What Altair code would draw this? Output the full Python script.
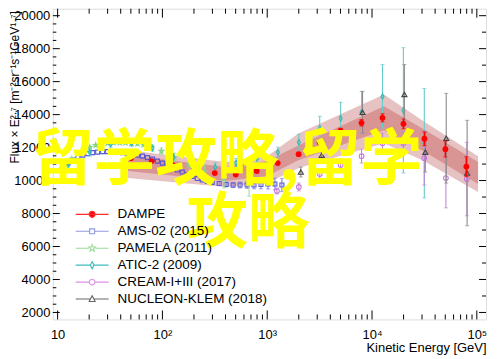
import altair as alt
import pandas as pd

# ---------------- data ----------------
series_names = ["DAMPE", "AMS-02 (2015)", "PAMELA (2011)", "ATIC-2 (2009)",
                "CREAM-I+III (2017)", "NUCLEON-KLEM (2018)"]

dampe_E = [50, 79, 126, 200, 316, 501, 794, 1259, 1995, 3162, 5012, 7943,
           12590, 19950, 31620, 50120, 79430]
dampe_F = [11360, 11180, 10940, 10640, 10455, 10364, 10575, 11059, 11602, 12327,
           13030, 13504, 13806, 13444, 12538, 11904, 10847]
dampe_err = [20, 20, 20, 25, 30, 35, 40, 50, 70, 100, 140, 200, 250, 300, 420, 480, 600]

ams_E = [11.2, 12.5, 13.96, 15.6, 17.4, 19.4, 21.6, 24.1, 26.9, 30.0,
         33.5, 37.4, 41.7, 46.5, 51.9, 57.9, 64.6, 72.0, 80.4, 89.7,
         100, 111.6, 124.5, 138.8, 154.9, 172.8, 192.8, 215.1, 239.9, 267.7,
         298.6, 348, 405.7, 472.8, 551, 642, 748, 872, 1017, 1185, 1381]
ams_F = [10877, 11059, 11240, 11421, 11542, 11632, 11693, 11723, 11753, 11753,
         11753, 11723, 11693, 11662, 11602, 11542, 11481, 11391, 11300, 11179,
         11059, 10938, 10787, 10636, 10515, 10364, 10243, 10123, 10032, 9941,
         9881, 9821, 9760, 9730, 9730, 9730, 9730, 9760, 9790, 9790, 9730]
ams_err = [0] * 28 + [60, 80, 100, 120, 140, 160, 180, 200, 230, 260, 300, 350, 400]

pamela_E = [10.5, 11.98, 13.66, 15.57, 17.76, 20.25, 23.09, 26.33, 30.02, 34.22,
            39.03, 44.5, 50.75, 57.87, 65.98, 78.63, 97.8, 130.0, 180.5, 250.6,
            388.2, 670.8]
pamela_F = [10636, 10938, 11300, 11602, 11844, 12025, 12146, 12206, 12266, 12296,
            12296, 12296, 12266, 12236, 12176, 12025, 11783, 11421, 10938, 10515,
            10153, 9851]
pamela_err = [60, 60, 60, 60, 60, 60, 60, 60, 60, 60, 70, 80, 90, 100, 120, 150,
              200, 250, 350, 450, 600, 800]

atic_E = [12.79, 20.25, 32.06, 50.75, 80.4, 127.2, 201.4, 318.8, 504.7, 799,
          1265, 2003, 3171, 5021, 7948, 12585, 19922, 31540]
atic_F = [10998, 11723, 12206, 12266, 11964, 11421, 11059, 10817, 11059, 11360,
          11723, 12327, 13172, 13776, 14138, 15105, 14259, 12266]
atic_err = [300, 240, 180, 180, 180, 200, 240, 260, 280, 300, 300, 480, 725, 970,
            1270, 1930, 3800, 3320]

cream_E = [1238, 2003, 3171, 5021, 7948, 12585, 19922, 31540, 50700, 80270]
cream_F = [9368, 9609, 10394, 10938, 11481, 12266, 12266, 11360, 10153, 10092]
cream_err = [180, 240, 300, 360, 420, 600, 720, 1630, 1810, 2230]

nucleon_E = [2093, 3313, 8122, 20360, 32240, 51050, 80790]
nucleon_F = [10515, 11542, 14138, 15225, 11723, 12570, 10454]
nucleon_err = [300, 420, 1270, 1810, 1210, 2720, 3200]

band_E = [46.6, 400, 1000, 2000, 13000, 30000, 102700]
band_light_hi = [11844, 11119, 11481, 12870, 15225, 13655, 11481]
band_dark_hi = [11542, 10817, 11179, 12146, 14500, 13172, 11119]
band_dark_lo = [10576, 9972, 10273, 11240, 13051, 11844, 9790]
band_light_lo = [10153, 9609, 9851, 10757, 12266, 11240, 9307]

x_label_vals = [10, 100, 1000, 10000, 100000]
x_label_txt = ["10", "10²", "10³", "10⁴", "10⁵"]
y_label_vals = [2000, 4000, 6000, 8000, 10000, 12000, 14000, 16000, 18000, 20000]

watermark_line1 = "留学攻略,留学"
watermark_line2 = "攻略"

# ---------------- styling ----------------
W, H = 435, 312
FONT = "Liberation Sans"
xscale = alt.Scale(type="log", domain=[9.0, 122400], nice=False)
yscale = alt.Scale(domain=[1577, 20423], nice=False, zero=False)

marker_color = {
    "DAMPE": "#ff0000",
    "AMS-02 (2015)": "#5a5ad2",
    "PAMELA (2011)": "#86d486",
    "ATIC-2 (2009)": "#33b8b8",
    "CREAM-I+III (2017)": "#cc77dd",
    "NUCLEON-KLEM (2018)": "#444444",
}
bar_color = {
    "DAMPE": "#ff0000",
    "AMS-02 (2015)": "#7d7ddc",
    "PAMELA (2011)": "#9fdc9f",
    "ATIC-2 (2009)": "#66cccc",
    "CREAM-I+III (2017)": "#c08ad2",
    "NUCLEON-KLEM (2018)": "#8a8a8a",
}
legend_line_color = ["#ff2a2a", "#8f99e2", "#9bdc9b", "#3fbcbc", "#e090e8", "#666666"]
legend_fill = ["#ff0000", "white", "white", "white", "white", "white"]

STAR = ("M0,-1L0.235,-0.324L0.951,-0.309L0.38,0.124L0.588,0.809L0,0.4"
        "L-0.588,0.809L-0.38,0.124L-0.951,-0.309L-0.235,-0.324Z")
THIN_DIAMOND = "M0,-1L0.55,0L0,1L-0.55,0Z"
marker_shape = {
    "DAMPE": "circle",
    "AMS-02 (2015)": "square",
    "PAMELA (2011)": STAR,
    "ATIC-2 (2009)": THIN_DIAMOND,
    "CREAM-I+III (2017)": "circle",
    "NUCLEON-KLEM (2018)": "triangle-up",
}
marker_size = {
    "DAMPE": 34, "AMS-02 (2015)": 16, "PAMELA (2011)": 26,
    "ATIC-2 (2009)": 30, "CREAM-I+III (2017)": 22, "NUCLEON-KLEM (2018)": 26,
}

# legend symbols: a line segment with the marker in its middle (unit = 6.5 px)
legend_paths = [
    "M-2.54,0H2.54M0.46,0A0.46,0.46,0,1,1,-0.46,0A0.46,0.46,0,1,1,0.46,0Z",
    "M-2.54,0H-0.38M0.38,0H2.54M-0.38,-0.38H0.38V0.38H-0.38Z",
    "M-2.54,0H-0.5M0.5,0H2.54M0,-0.54L0.13,-0.18L0.51,-0.17L0.21,0.07L0.32,0.44"
    "L0,0.22L-0.32,0.44L-0.21,0.07L-0.51,-0.17L-0.13,-0.18Z",
    "M-2.54,0H-0.28M0.28,0H2.54M0,-0.55L0.28,0L0,0.55L-0.28,0Z",
    "M-2.54,0H-0.43M0.43,0H2.54M0.43,0A0.43,0.43,0,1,1,-0.43,0A0.43,0.43,0,1,1,0.43,0Z",
    "M-2.54,0H-0.26M0.26,0H2.54M0,-0.5L0.46,0.38L-0.46,0.38Z",
]

axis_common = dict(grid=False, ticks=False, domain=False,
                   labelFont=FONT, labelFontSize=13, labelColor="black",
                   titleFont=FONT, titleFontWeight="normal", titleColor="black")

label_expr = " : ".join(f"datum.value == {v} ? '{t}'" for v, t in zip(x_label_vals, x_label_txt)) + " : ''"

x_axis = alt.Axis(values=x_label_vals, labelExpr=label_expr, labelPadding=9,
                  labelFlush=False, labelOverlap=False,
                  title="Kinetic Energy [GeV]", titleAnchor="end", titleAlign="right",
                  titleX=W, titleY=32, titleBaseline="alphabetic", titleFontSize=13,
                  **axis_common)
y_axis = alt.Axis(values=y_label_vals, format="d", labelPadding=3,
                  title="Flux × E²·⁷ [m⁻²sr⁻¹s⁻¹GeV¹·⁷]", titleAnchor="end",
                  titleAlign="right", titleAngle=-90, titleX=-38, titleY=2,
                  titleBaseline="middle", titleFontSize=12, **axis_common)


def X(field="E:Q"):
    return alt.X(field, scale=xscale, axis=x_axis)


def Y(field):
    return alt.Y(field, scale=yscale, axis=y_axis)


# ---------------- band ----------------
band_df = pd.DataFrame({"E": band_E, "lh": band_light_hi, "dh": band_dark_hi,
                        "dl": band_dark_lo, "ll": band_light_lo})
band_light = alt.Chart(band_df).mark_area(color="#e6c2c2", opacity=1).encode(
    x=X(), y=Y("lh:Q"), y2="ll:Q")
band_dark = alt.Chart(band_df).mark_area(color="#d99494", opacity=1).encode(
    x=X(), y=Y("dh:Q"), y2="dl:Q")

# ---------------- series ----------------
series_data = {
    "AMS-02 (2015)": (ams_E, ams_F, ams_err),
    "PAMELA (2011)": (pamela_E, pamela_F, pamela_err),
    "ATIC-2 (2009)": (atic_E, atic_F, atic_err),
    "CREAM-I+III (2017)": (cream_E, cream_F, cream_err),
    "NUCLEON-KLEM (2018)": (nucleon_E, nucleon_F, nucleon_err),
    "DAMPE": (dampe_E, dampe_F, dampe_err),
}

layers = [band_light, band_dark]
for name, (E, F, err) in series_data.items():
    df = pd.DataFrame({"E": E, "F": F, "err": err})
    df["lo"] = df["F"] - df["err"]
    df["hi"] = df["F"] + df["err"]
    base = alt.Chart(df)
    bars = base.transform_filter("datum.err > 0")
    sw = 1.6 if name == "DAMPE" else 1.1
    layers.append(bars.mark_rule(color=bar_color[name], strokeWidth=sw).encode(
        x=X(), y=Y("lo:Q"), y2="hi:Q"))
    for end in ["lo", "hi"]:
        layers.append(bars.mark_tick(color=bar_color[name], orient="horizontal",
                                     size=4, thickness=1).encode(x=X(), y=Y(f"{end}:Q")))
    filled = name == "DAMPE"
    layers.append(base.mark_point(shape=marker_shape[name], size=marker_size[name],
                                  filled=filled, color=marker_color[name],
                                  strokeWidth=1.1, opacity=1).encode(x=X(), y=Y("F:Q")))

# ---------------- inward ticks on all four sides ----------------
x_major = x_label_vals
x_minor = [d * m for d in [10, 100, 1000, 10000] for m in range(2, 10)]
y_major = y_label_vals
y_minor_left = [v for v in range(2500, 20001, 500) if v % 2000 != 0]
y_minor_right = [v for v in range(3000, 20001, 1000) if v % 2000 != 0]


def xticks(vals, y0, y1):
    return alt.Chart(pd.DataFrame({"E": vals})).mark_rule(color="black", strokeWidth=1).encode(
        x=X(), y=alt.value(y0), y2=alt.value(y1))


def yticks(vals, x0, x1):
    return alt.Chart(pd.DataFrame({"F": vals})).mark_rule(color="black", strokeWidth=1).encode(
        y=Y("F:Q"), x=alt.value(x0), x2=alt.value(x1))


layers += [
    xticks(x_major, H, H - 9), xticks(x_minor, H, H - 5),
    xticks(x_major, 0, 9), xticks(x_minor, 0, 5),
    yticks(y_major, 0, 7), yticks(y_minor_left, 0, 3.5),
    yticks(y_major, W, W - 7), yticks(y_minor_right, W, W - 4),
]

# ---------------- legend ----------------
leg = alt.Legend(title=None, orient="none", legendX=32, legendY=199,
                 symbolSize=169, symbolStrokeWidth=1.1, symbolOpacity=1,
                 labelFont=FONT, labelFontSize=13.5, labelColor="black",
                 labelOffset=18, rowPadding=3, padding=0)
legend_layer = alt.Chart(pd.DataFrame({"series": series_names})).mark_point(opacity=0).encode(
    shape=alt.Shape("series:N", scale=alt.Scale(domain=series_names, range=legend_paths), legend=leg),
    stroke=alt.Stroke("series:N", scale=alt.Scale(domain=series_names, range=legend_line_color), legend=leg),
    fill=alt.Fill("series:N", scale=alt.Scale(domain=series_names, range=legend_fill), legend=leg),
)
layers.append(legend_layer)

# ---------------- watermark (two lines) ----------------
wm_style = dict(font="Noto Sans CJK SC", fontSize=62, fontWeight="bold",
                color="#ffff00", align="center", baseline="alphabetic")
wm1 = alt.Chart(pd.DataFrame({"k": [0]})).mark_text(text=watermark_line1, **wm_style).encode(
    x=alt.value(175), y=alt.value(172))
wm2 = alt.Chart(pd.DataFrame({"k": [0]})).mark_text(text=watermark_line2, **wm_style).encode(
    x=alt.value(196), y=alt.value(235))
layers += [wm1, wm2]

chart = alt.layer(*layers).properties(
    width=W, height=H,
    autosize=alt.AutoSizeParams(type="none"),
    padding={"left": 45, "top": 0, "right": 6, "bottom": 36},
).configure_view(stroke="black", strokeWidth=1.5).configure(background="white")

chart.save("out.html", embed_options={"renderer": "svg", "actions": False})
